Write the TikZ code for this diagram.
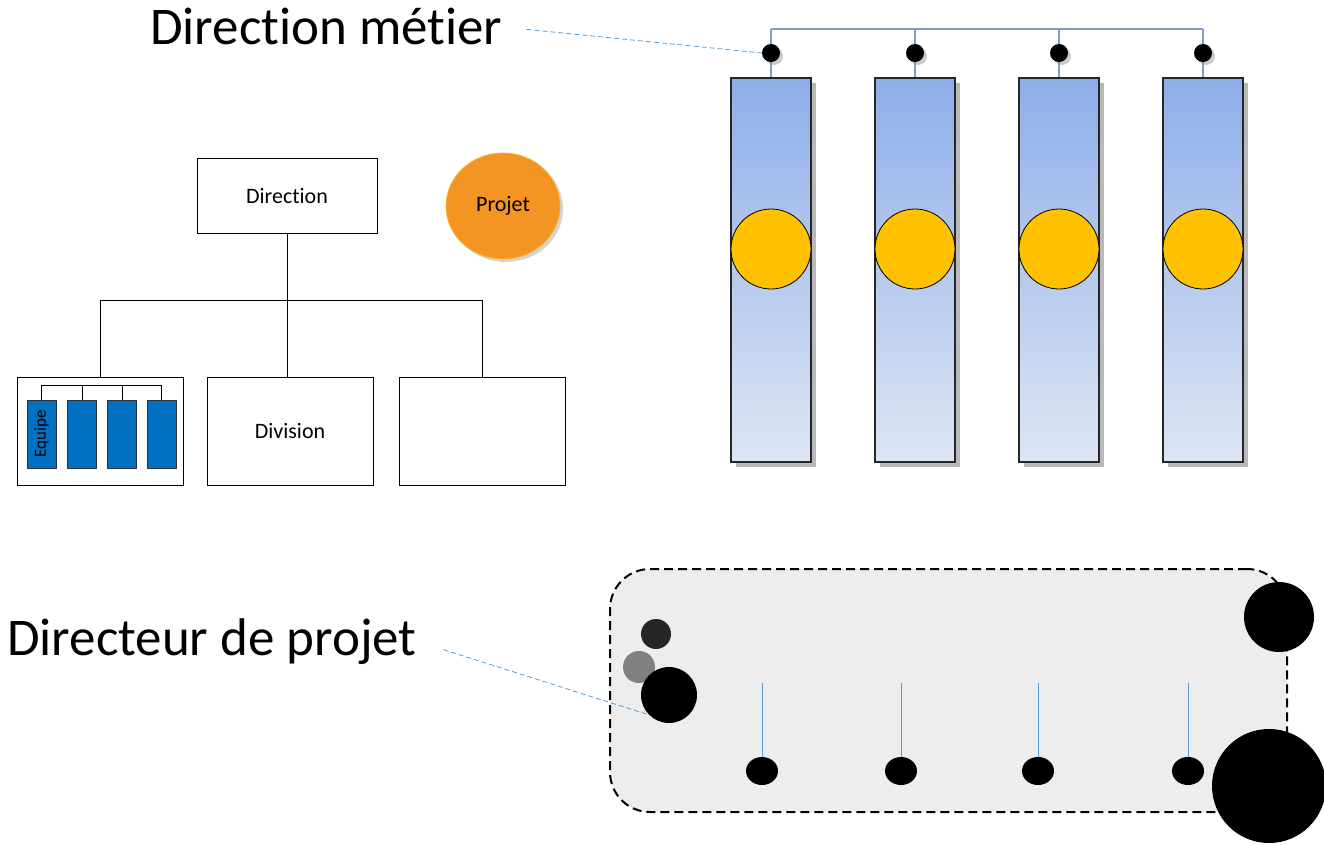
\documentclass[tikz,border=0pt]{standalone}
\usepackage{fontspec}
\setmainfont{Carlito}[Ligatures=NoCommon]
\usepackage{xcolor}
\usetikzlibrary{positioning, shapes.geometric, shadows}

\definecolor{colTop}{HTML}{8EAEE8}
\definecolor{colBot}{HTML}{DDE5F5}
\definecolor{sunYellow}{HTML}{FFC000}
\definecolor{teamBlue}{HTML}{0070C0}
\definecolor{projOrange}{HTML}{F39423}
\definecolor{projEdge}{HTML}{F7B52B}
\definecolor{linkBlue}{HTML}{5B9BD5}
\definecolor{barGray}{HTML}{7F9DBF}
\definecolor{frameGray}{HTML}{EDEDED}

\begin{document}
\begin{tikzpicture}[x=1pt, y=-1pt,
      orgbox/.style={draw, thick, fill=white, align=center, font=\fontsize{22}{26}\selectfont},
      team/.style={draw=black!80, thick, fill=teamBlue, minimum width=29pt, minimum height=68pt, inner sep=0pt},
      column/.style={draw=black!85, line width=1.5pt, top color=colTop, bottom color=colBot, minimum width=80pt, minimum height=384pt,
        drop shadow={shadow xshift=5pt, shadow yshift=-5pt, opacity=0.55}},
      sun/.style={circle, draw, thick, fill=sunYellow, minimum size=80pt, inner sep=0pt},
      dot/.style={circle, fill=black, minimum size=18pt, inner sep=0pt, drop shadow={shadow xshift=3pt, shadow yshift=-3pt, opacity=0.4}},
      member/.style={ellipse, fill=black, minimum width=32pt, minimum height=28pt, inner sep=0pt},
      blob/.style={circle, fill=#1, inner sep=0pt},
      bigtxt/.style={anchor=base west, inner sep=0pt, font=\fontsize{53}{62}\selectfont},
      pointer/.style={linkBlue, line width=0.8pt, dash pattern=on 5pt off 3pt},
      link/.style={barGray, line width=1.5pt},
      stemline/.style={linkBlue, line width=1pt},
    ]
    \useasboundingbox (0,0) rectangle (1324,845);

    % Direction metier: columns
    \foreach \i/\x in {1/771,2/915,3/1059,4/1203} {
      \node[column] (col\i) at (\x,270) {};
      \coordinate (top\i) at (\x,29);
      \draw[link] (top\i) -- (col\i.north);
      \node[dot] (dot\i) at (\x,53) {};
      \node[sun] (sun\i) at (\x,249) {};
    }
    \draw[link] (top1) -- (top4);

    % Org chart
    \node[orgbox, minimum width=180pt, minimum height=75pt] (dir) at (287,196) {Direction};
    \node[orgbox, minimum width=166pt, minimum height=108pt] (left) at (100,431) {};
    \node[orgbox, minimum width=166pt, minimum height=108pt] (div) at (290,431) {Division};
    \node[orgbox, minimum width=166pt, minimum height=108pt] (right) at (482,431) {};
    \coordinate (fork) at (287,300);
    \draw[thick] (dir.south) -- (fork);
    \draw[thick] (fork) -| (left.north);
    \draw[thick] (fork) -| (right.north);
    \draw[thick] (fork) -- (fork |- div.north);

    \node[team] (team1) at (41.5,434) {\rotatebox{90}{\fontsize{17}{20}\selectfont Equipe}};
    \node[team] (team2) at (82,434) {};
    \node[team] (team3) at (122,434) {};
    \node[team] (team4) at (161.5,434) {};
    \coordinate (tbar) at (41.5,385);
    \draw[thick] (team1.north) -- (tbar) -| (team4.north);
    \foreach \i in {2,3}
      \draw[thick] (team\i.north) -- (team\i.north |- tbar);

    \node[ellipse, draw=projEdge, thick, fill=projOrange, minimum width=114pt, minimum height=106pt,
      font=\fontsize{22}{26}\selectfont, drop shadow={shadow xshift=3pt, shadow yshift=-3pt, opacity=0.35}] (projet) at (503,206) {Projet};

    % Directeur de projet: team frame
    \node[draw, dashed, dash pattern=on 9pt off 5pt, line width=2pt, rounded corners=40pt, fill=frameGray,
      minimum width=677pt, minimum height=243pt] (frame) at (948.5,690.5) {};
    \foreach \i/\x in {1/762,2/901,3/1038,4/1188} {
      \node[member] (member\i) at (\x,771) {};
      \coordinate (stem\i) at (\x,683);
      \draw[stemline] (stem\i) -- (member\i.north);
    }
    \node[blob=black!85, minimum size=30pt] (pm1) at (656,634) {};
    \node[blob=black!50, minimum size=32pt] (pm2) at (639,667) {};
    \node[blob=black, minimum size=56pt] (pm) at (669,695) {};
    \node[blob=black, minimum size=70pt] (big1) at (1279,617) {};
    \node[blob=black, minimum size=114pt] (big2) at (1269,786) {};

    % Labels
    \node[bigtxt] (metier) at (150,45) {Direction métier};
    \node[bigtxt] (directeur) at (7,655) {Directeur de projet};
    \draw[pointer, shorten <=24pt] (metier.east) -- (dot1.west);
    \draw[pointer, shorten <=28pt] (directeur.east) -- (pm.south west);
  \end{tikzpicture}
\end{document}
